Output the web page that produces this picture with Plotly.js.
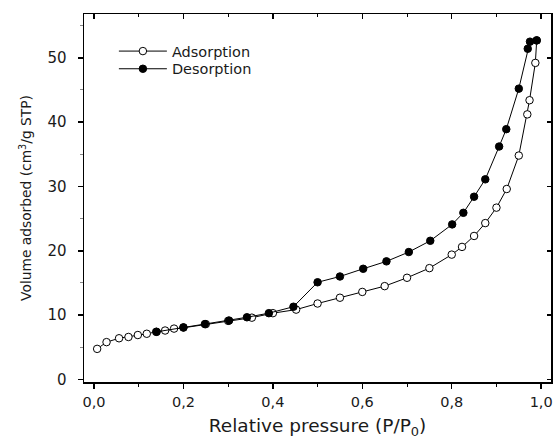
<!DOCTYPE html>
<html><head><meta charset="utf-8">
<script src="https://cdn.plot.ly/plotly-3.0.1.min.js"></script>
<style>html,body{margin:0;padding:0;background:#fff}</style>
</head><body>
<div id="chart" style="width:554px;height:439px"></div>
<script>
const adsX = [0.007,0.028,0.056,0.077,0.098,0.118,0.139,0.159,0.179,0.2,0.25,0.3,0.353,0.4,0.452,0.5,0.55,0.6,0.65,0.7,0.75,0.8,0.823,0.85,0.875,0.9,0.923,0.95,0.969,0.974,0.987,0.99];
const adsY = [4.75,5.8,6.4,6.6,6.9,7.1,7.4,7.6,7.9,8.1,8.6,9.1,9.6,10.3,10.85,11.8,12.7,13.6,14.5,15.8,17.3,19.4,20.6,22.3,24.3,26.7,29.6,34.8,41.2,43.4,49.2,52.7];
const desX = [0.14,0.2,0.248,0.302,0.342,0.391,0.446,0.5,0.55,0.602,0.654,0.704,0.752,0.801,0.826,0.85,0.875,0.906,0.922,0.95,0.97,0.975,0.99];
const desY = [7.4,8.06,8.6,9.15,9.66,10.3,11.3,15.1,16.0,17.2,18.35,19.8,21.55,24.1,25.9,28.4,31.1,36.2,38.9,45.2,51.4,52.5,52.7];
const xTickVals = [0,0.2,0.4,0.6,0.8,1.0];
const xMinorVals = [0.1,0.3,0.5,0.7,0.9];
const yTickVals = [0,10,20,30,40,50];
const yMinorVals = [5,15,25,35,45,55];
const xTitle = 'Relative pressure (P/P<sub>0</sub>)';
const yTitle = 'Volume adsorbed (cm<sup>3</sup>/g STP)';
const names = ['Adsorption','Desorption'];

const xr = [-0.0224, 1.022];
const yr = [-0.4, 56.8];
const fam = 'DejaVu Sans, Liberation Sans, Arial, sans-serif';
const txt = '#1a1a1a';

const traces = [
  {x: adsX, y: adsY, name: names[0], mode:'lines+markers', type:'scatter', legend:'legend',
   line:{color:'#000', width:1},
   marker:{symbol:'circle', size:7.5, color:'#fff', line:{color:'#000', width:1}}},
  {x: desX, y: desY, name: names[1], mode:'lines+markers', type:'scatter', legend:'legend2',
   line:{color:'#000', width:1},
   marker:{symbol:'circle', size:7.5, color:'#000', line:{color:'#000', width:1}}},
  {x: [], y: [], xaxis:'x2', yaxis:'y2', showlegend:false, hoverinfo:'skip'}
];

const legFont = {family:fam, size:14.5, color:txt};
const layout = {
  width:554, height:439,
  margin:{l:84, r:3, t:14, b:57},
  paper_bgcolor:'#fff', plot_bgcolor:'#fff',
  separators:',.',
  font:{family:fam, size:15, color:txt},
  showlegend:true,
  legend:{x:0.064, y:0.899, xanchor:'left', yanchor:'middle', bgcolor:'rgba(0,0,0,0)',
          font:legFont, itemwidth:48},
  legend2:{x:0.064, y:0.851, xanchor:'left', yanchor:'middle', bgcolor:'rgba(0,0,0,0)',
          font:legFont, itemwidth:48},
  xaxis:{range:xr, tickvals:xTickVals, tickformat:'.1f',
         ticks:'outside', ticklen:5, tickwidth:1.5, tickcolor:'#000', ticklabelstandoff:1,
         showline:true, linecolor:'#000', linewidth:1.5, showgrid:false, zeroline:false,
         minor:{tickvals:xMinorVals, ticks:'outside', ticklen:3, tickcolor:'#000', tickwidth:1, showgrid:false},
         title:{text:xTitle, font:{family:fam, size:18.5, color:txt}, standoff:10},
         tickfont:{family:fam, size:14.5, color:txt}},
  yaxis:{range:yr, tickvals:yTickVals,
         ticks:'outside', ticklen:5, tickwidth:1.5, tickcolor:'#000', ticklabelstandoff:8,
         showline:true, linecolor:'#000', linewidth:1.5, showgrid:false, zeroline:false,
         minor:{tickvals:yMinorVals, ticks:'outside', ticklen:3, tickcolor:'#888', tickwidth:1, showgrid:false},
         title:{text:yTitle, font:{family:fam, size:13.8, color:txt}, standoff:12},
         tickfont:{family:fam, size:15, color:txt}},
  xaxis2:{range:xr, overlaying:'x', side:'top', anchor:'y2', showticklabels:false,
          tickvals:xTickVals, ticks:'inside', ticklen:5, tickwidth:1.5, tickcolor:'#000',
          minor:{tickvals:xMinorVals, ticks:'inside', ticklen:3, tickcolor:'#000', tickwidth:1, showgrid:false},
          showline:true, linecolor:'#000', linewidth:1.5, showgrid:false, zeroline:false},
  yaxis2:{range:yr, overlaying:'y', side:'right', anchor:'x2', showticklabels:false,
          tickvals:yTickVals, ticks:'inside', ticklen:4, tickwidth:1.5, tickcolor:'#000',
          showline:true, linecolor:'#000', linewidth:1.5, showgrid:false, zeroline:false}
};

Plotly.newPlot('chart', traces, layout, {displayModeBar:false, staticPlot:true});
</script>
</body></html>
